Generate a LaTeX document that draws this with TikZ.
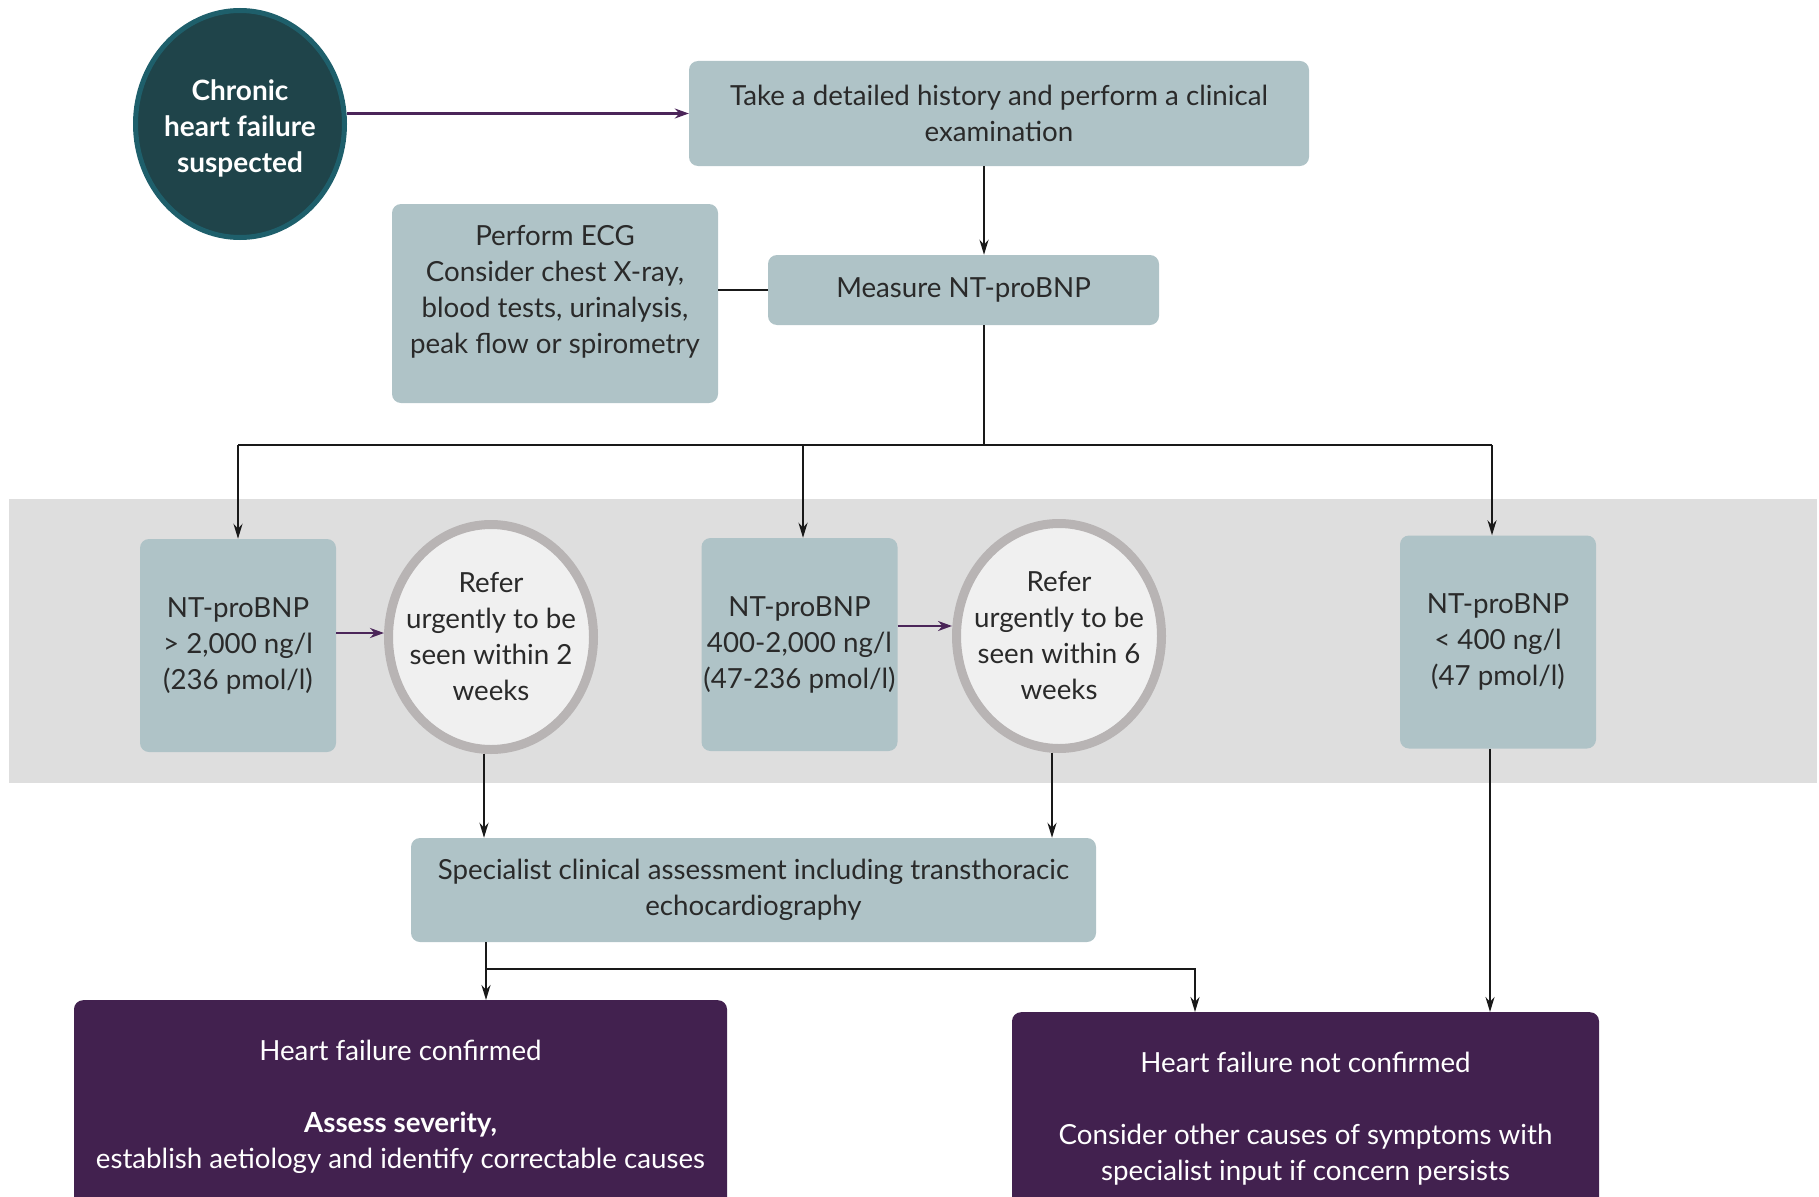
\documentclass[tikz,border=0pt]{standalone}
\usepackage{fontspec}
\setmainfont{Lato}
\usepackage{tikz}
\usetikzlibrary{calc}
\usetikzlibrary{arrows.meta}
\usetikzlibrary{shapes.geometric}
\definecolor{boxgrey}{HTML}{AFC3C7}
\definecolor{bandgrey}{HTML}{DEDEDE}
\definecolor{inkdark}{HTML}{2A2A2A}
\definecolor{hfpurple}{HTML}{42214F}
\definecolor{arrpurple}{HTML}{4B2559}
\definecolor{startfill}{HTML}{1F444A}
\definecolor{startrim}{HTML}{1E5F6B}
\definecolor{referfill}{HTML}{F0F0F0}
\definecolor{referrim}{HTML}{B8B4B4}
\tikzset{
  stepbox/.style={fill=boxgrey, rounded corners=9pt, align=center, text=inkdark, inner sep=0pt, font=\fontsize{27.7}{36}\selectfont},
  resultbox/.style={stepbox, minimum width=196pt, minimum height=213pt},
  referring/.style={ellipse, fill=referfill, draw=referrim, line width=9pt, align=center, text=inkdark, inner xsep=-22pt, inner ysep=0pt, minimum width=205pt, minimum height=225pt, font=\fontsize{27.7}{36}\selectfont},
  startnode/.style={ellipse, fill=startfill, draw=startrim, line width=5pt, align=center, text=white, inner xsep=-8pt, inner ysep=0pt, minimum width=209pt, minimum height=227pt, font=\fontsize{28}{36}\selectfont\bfseries},
  outcome/.style={fill=hfpurple, rounded corners=9pt, align=center, text=white, anchor=north, inner xsep=0pt, inner ysep=40pt, font=\fontsize{27.7}{36}\selectfont},
  link/.style={line width=2.2pt, draw=black!90},
  arr/.style={link, -{Stealth[length=15pt,width=9pt]}},
  parr/.style={line width=2.6pt, draw=arrpurple, -{Stealth[length=14pt,width=10pt]}}
}
\begin{document}
\begin{tikzpicture}[x=1pt,y=-1pt]
\useasboundingbox (0,0) rectangle (1819,1196);
% grey band behind the three results
\fill[bandgrey] (9,499) rectangle (1817,783);
% first steps
\node[startnode] (start) at (240,124) {\rule{0pt}{29pt}Chronic\\heart failure\\suspected};
\node[stepbox, minimum width=620pt, minimum height=105pt] (hist) at (999,113.5) {Take a detailed history and perform a clinical\\examination};
\node[stepbox, minimum width=326pt, minimum height=199pt] (ecg) at (555,303.5) {Perform ECG\\Consider chest X-ray,\\blood tests, urinalysis,\\peak flow or spirometry\\[-8pt]\mbox{}};
\node[stepbox, minimum width=391pt, minimum height=70pt] (measure) at (963.5,290) {Measure NT-proBNP};
% NT-proBNP results and referrals
\node[resultbox] (high) at (238,645.5) {NT-proBNP\\> 2,000 ng/l\\(236 pmol/l)};
\node[referring] (refertwo) at (491,637) {Refer\\urgently to be\\seen within 2\\weeks};
\node[resultbox] (mid) at (799.5,644.5) {NT-proBNP\\400-2,000 ng/l\\(47-236 pmol/l)};
\node[referring] (refersix) at (1059,636) {Refer\\urgently to be\\seen within 6\\weeks};
\node[resultbox] (low) at (1498,642) {NT-proBNP\\< 400 ng/l\\(47 pmol/l)};
\node[stepbox, minimum width=685pt, minimum height=104pt] (spec) at (753.5,890) {Specialist clinical assessment including transthoracic\\echocardiography};
% outcomes
\node[outcome, minimum width=653pt] (conf) at (400.5,1000) {Heart failure confirmed\\[36pt]\textbf{Assess severity,}\\establish aetiology and identify correctable causes};
\node[outcome, minimum width=587pt] (notconf) at (1305.5,1012) {Heart failure not confirmed\\[36pt]Consider other causes of symptoms with\\specialist input if concern persists};
% connectors
\draw[parr] (start.east |- hist) -- (hist.west);
\draw[arr] ([xshift=-15pt]hist.south) -- ([xshift=-15pt]hist.south |- measure.north);
\draw[link] (ecg.east |- measure) -- (measure.west);
\coordinate (split) at (984,445);
\draw[link] ([xshift=20.5pt]measure.south) -- (split);
\draw[link] (high.north |- split) -- ([xshift=-6pt]low.north |- split);
\foreach \res/\dx in {high/0,mid/3.5,low/-6}
  \draw[arr] ([xshift=\dx pt]\res.north |- split) -- ([xshift=\dx pt]\res.north);
\draw[parr] (high.east |- 0,633) -- (refertwo.west |- 0,633);
\draw[parr] (mid.east |- 0,626) -- (refersix.west |- 0,626);
\foreach \ref in {refertwo,refersix}
  \draw[arr] ([xshift=-7pt]\ref.south) -- ([xshift=-7pt]\ref.south |- spec.north);
\coordinate (fork) at (486,969);
\draw[arr] (spec.south -| fork) -- (conf.north -| fork);
\draw[arr] (fork) -| ([xshift=-110.5pt]notconf.north);
\draw[arr] ([xshift=-8pt]low.south) -- ([xshift=-8pt]low.south |- notconf.north);
\end{tikzpicture}
\end{document}
